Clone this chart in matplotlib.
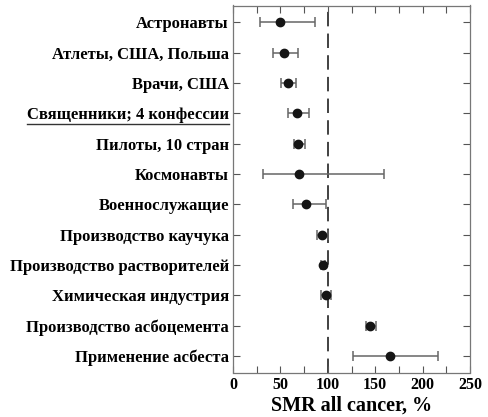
import matplotlib.pyplot as plt
import numpy as np
from matplotlib.lines import Line2D

labels = ["Астронавты", "Атлеты, США, Польша", "Врачи, США",
          "Священники; 4 конфессии", "Пилоты, 10 стран", "Космонавты",
          "Военнослужащие", "Производство каучука",
          "Производство растворителей", "Химическая индустрия",
          "Производство асбоцемента", "Применение асбеста"]
smr = [50, 54, 58, 67, 68.5, 70, 77, 94, 95, 98, 145, 166]
low = [28, 42, 51, 58, 64, 32, 63, 88.5, 93, 93, 140, 127]
high = [87, 69, 66, 80, 76, 159, 98, 100, 97, 103, 151, 216]
underlined = "Священники; 4 конфессии"

plt.rcParams['font.family'] = ['Liberation Serif', 'DejaVu Serif']
plt.rcParams['font.weight'] = 'bold'

fig = plt.figure(figsize=(4.88, 4.17), dpi=100)
ax = fig.add_axes([233 / 488, 1 - 372.5 / 417, 237 / 488, 367 / 417])

y = np.arange(len(labels))
smr = np.array(smr)
xerr = np.array([smr - np.array(low), np.array(high) - smr])
ax.errorbar(smr, y, xerr=xerr, fmt='o', color='#151515', ms=6,
            ecolor='#666666', elinewidth=1.1, capsize=3.5, capthick=1.1)
ax.axvline(100, color='#333333', lw=1.3, dashes=(8, 4), zorder=0)

ax.set_xlim(0, 248)
ax.set_ylim(len(labels) - 0.45, -0.56)
ax.set_yticks(y)
ax.set_yticklabels(labels, fontsize=12, fontweight='bold')
ax.set_xticks([0, 50, 100, 150, 200, 250])
ax.set_xticks(np.arange(25, 250, 50), minor=True)
ax.tick_params(axis='both', which='both', direction='in', top=True, right=True,
               length=5, width=0.8, color='#555555')
ax.tick_params(axis='x', labelsize=11.5, pad=3)
ax.tick_params(axis='y', pad=3)
for t in ax.get_xticklabels():
    t.set_fontweight('bold')
for s in ax.spines.values():
    s.set_color('#777777')
    s.set_linewidth(0.9)
ax.set_xlabel("SMR all cancer, %", fontsize=14.5, fontweight='bold', labelpad=2)

fig.canvas.draw()
r = fig.canvas.get_renderer()
for t in ax.get_yticklabels():
    if t.get_text() == underlined:
        bb = t.get_window_extent(r)
        yy = (bb.y0 - 1) / fig.bbox.height
        fig.add_artist(Line2D([bb.x0 / fig.bbox.width, bb.x1 / fig.bbox.width],
                              [yy, yy], color='#333333', lw=1.0))

fig.savefig("out.png", dpi=100)
